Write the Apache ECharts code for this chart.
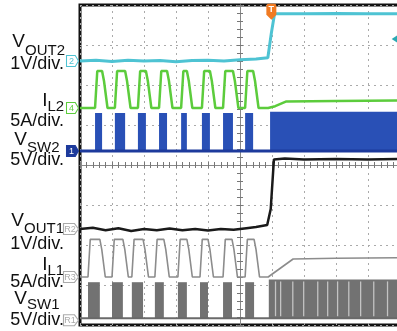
<!DOCTYPE html>
<html>
<head>
<meta charset="utf-8">
<script src="https://cdn.jsdelivr.net/npm/echarts@6/dist/echarts.min.js"></script>
<style>
html, body { margin: 0; padding: 0; background: #fff; }
#scope { width: 397px; height: 331px; }
</style>
</head>
<body>
<div id="scope"></div>
<script>
// everything in scope divisions: x = 0 is screen centre, y = 0 is centre line

// VOUT2 (cyan)
var vout2 = [[-5, 2.6], [-4.5, 2.62], [-4, 2.59], [-3.5, 2.62], [-3, 2.6], [-2.5, 2.61], [-2, 2.58],
    [-1.5, 2.61], [-1, 2.62], [-0.5, 2.6], [0, 2.63], [0.5, 2.65], [0.87, 2.68], [0.98, 3.3], [1.08, 3.78],
    [2, 3.78], [3, 3.79], [4, 3.78], [5, 3.78]];

// VOUT1 (black)
var vout1 = [[-5, -1.6], [-4.6, -1.57], [-4.2, -1.63], [-3.8, -1.58], [-3.4, -1.65], [-3, -1.6], [-2.6, -1.63],
    [-2.2, -1.59], [-1.8, -1.63], [-1.4, -1.6], [-1, -1.64], [-0.6, -1.6], [-0.2, -1.62], [0.2, -1.58],
    [0.5, -1.55], [0.85, -1.5], [0.96, -1.1], [1.06, 0.14], [1.4, 0.16], [2, 0.14], [3, 0.15], [4, 0.14], [5, 0.15]];

// switching bursts, channel 2 and channel 1
var sw2Start = [-4.53, -3.91, -3.19, -2.53, -1.84, -1.19, -0.53, 0.16];
var sw2End = [-4.31, -3.59, -2.94, -2.28, -1.66, -0.94, -0.22, 0.41];
var sw1Start = [-4.75, -4.0, -3.38, -2.66, -1.94, -1.25, -0.53, 0.16];
var sw1End = [-4.38, -3.66, -3.03, -2.38, -1.66, -1.0, -0.25, 0.44];

// IL2 (green)
var il2Low = 1.425, il2High = 2.35;
var il2After = [[0.88, 1.425], [1.1, 1.47], [1.45, 1.59], [3, 1.6], [5, 1.61]];
// VSW2 (blue)
var vsw2Base = 0.35, vsw2Top = 1.3, vsw2On = 0.94, vsw2BlockTop = 1.33;
// IL1 (grey)
var il1Low = -2.8, il1High = -1.86;
var il1After = [[0.88, -2.8], [1.66, -2.35], [3, -2.33], [5, -2.32]];
// VSW1 (dark grey)
var vsw1Base = -3.83, vsw1Top = -2.93, vsw1On = 0.9, vsw1BlockTop = -2.86;
var vsw1Gaps = [1.09, 1.25, 1.63, 1.97, 2.41, 2.72, 3.03, 3.38, 3.75, 4.16, 4.59];

var trigTime = 0.98, trigLevel = 3.15;

function pulses(starts, ends, low, high, after) {
    var pts = [[-5, low]];
    for (var i = 0; i < starts.length; i++) {
        pts.push([starts[i], low], [starts[i] + 0.07, high], [ends[i], high],
            [ends[i] + 0.06, high - 0.25], [ends[i] + 0.17, low]);
    }
    return pts.concat(after);
}

function bursts(starts, ends, base, top, on, blockTop) {
    var d = starts.map(function (s, i) { return [s, ends[i], base, top]; });
    d.push([on, 5.2, base, blockTop]);
    return d;
}

function rectItem(params, api) {
    var p0 = api.coord([api.value(0), api.value(3)]);
    var p1 = api.coord([api.value(1), api.value(2)]);
    return {
        type: 'rect',
        shape: { x: p0[0], y: p0[1], width: Math.max(p1[0] - p0[0], 1), height: p1[1] - p0[1] },
        style: { fill: api.visual('color') }
    };
}

function chanMark(v, txt, col, fill, w) {
    return {
        coord: [-5, v],
        symbolSize: [w, 11],
        symbolOffset: [-w / 2 - 1.5, 0],
        itemStyle: { color: fill, borderColor: col, borderWidth: 1 },
        label: { show: true, formatter: txt, color: fill === '#fff' ? col : '#fff', fontSize: 9, offset: [-1, 0.5] }
    };
}
var tag = 'path://M0,0L8,0L11,5L8,10L0,10Z';

var myChart = echarts.init(document.getElementById('scope'));

function mkAxis(pos, idx, split, min, max) {
    return {
        type: 'value', min: min, max: max, interval: 1, position: pos,
        axisLine: { show: true, onZero: true, onZeroAxisIndex: idx, lineStyle: { color: '#888', width: 1 } },
        axisTick: { show: true, length: 3, lineStyle: { color: '#777' } },
        minorTick: { show: true, splitNumber: 5, length: 3, lineStyle: { color: '#777' } },
        axisLabel: { show: false },
        splitLine: { show: split, lineStyle: { color: '#aaa', type: [2, 4], width: 1 } }
    };
}

var font = 'Liberation Sans';
function txt(x, y, s, size, align) {
    return {
        type: 'text', x: x, y: y, silent: true,
        style: { text: s, fill: '#111', font: size + 'px "' + font + '"', align: align || 'right', verticalAlign: 'middle' }
    };
}

var option = {
    animation: false,
    backgroundColor: '#fff',
    grid: {
        left: 80, top: 5, width: 320, height: 320, outerBoundsMode: 'none',
        show: true, borderColor: '#111', borderWidth: 3, backgroundColor: 'transparent'
    },
    xAxis: [mkAxis('bottom', 0, true, -5, 5), mkAxis('top', 1, false, -5, 5)],
    yAxis: [mkAxis('left', 0, true, -4, 4), mkAxis('right', 1, false, -4, 4)],
    graphic: [
        txt(25, 41.5, 'V', 19), txt(25, 51, 'OUT2', 15, 'left'), txt(64, 64, '1V/div.', 18),
        txt(47.5, 101, 'I', 19), txt(47.5, 107, 'L2', 15, 'left'), txt(64, 121.5, '5A/div.', 18),
        txt(27, 140, 'V', 19), txt(27, 148, 'SW2', 15, 'left'), txt(64, 160, '5V/div.', 18),
        txt(24, 220.5, 'V', 19), txt(24, 228.5, 'OUT1', 15, 'left'), txt(64, 244, '1V/div.', 18),
        txt(47.5, 265, 'I', 19), txt(47.5, 271, 'L1', 15, 'left'), txt(64, 282.5, '5A/div.', 18),
        txt(27, 298.5, 'V', 19), txt(27, 305, 'SW1', 15, 'left'), txt(64, 320, '5V/div.', 18)
    ],
    series: [
        {
            type: 'custom', name: 'VSW2', renderItem: rectItem, clip: true,
            itemStyle: { color: '#2950b6' },
            encode: { x: [0, 1], y: [2, 3] },
            data: bursts(sw2Start, sw2End, vsw2Base, vsw2Top, vsw2On, vsw2BlockTop)
        },
        {
            type: 'line', name: 'VSW2 base', showSymbol: false, clip: true,
            lineStyle: { color: '#1d3a9c', width: 3 },
            data: [[-5, vsw2Base], [5, vsw2Base]],
            markPoint: { symbol: tag, silent: true, data: [chanMark(vsw2Base, '1', '#1d3a9c', '#1d3a9c', 12)] }
        },
        {
            type: 'custom', name: 'VSW1', renderItem: rectItem, clip: true,
            itemStyle: { color: '#727272' },
            encode: { x: [0, 1], y: [2, 3] },
            data: bursts(sw1Start, sw1End, vsw1Base, vsw1Top, vsw1On, vsw1BlockTop)
        },
        {
            type: 'custom', name: 'VSW1 gaps', renderItem: rectItem, clip: true,
            itemStyle: { color: '#c4c4c4' },
            encode: { x: [0, 1], y: [2, 3] },
            data: vsw1Gaps.map(function (g) { return [g, g + 0.04, vsw1Base + 0.05, vsw1BlockTop - 0.05]; })
        },
        {
            type: 'line', name: 'VSW1 base', showSymbol: false, clip: true,
            lineStyle: { color: '#6a6a6a', width: 2 },
            data: [[-5, vsw1Base], [5, vsw1Base]],
            markPoint: { symbol: tag, silent: true, data: [chanMark(vsw1Base - 0.05, 'R1', '#aaa', '#fff', 15)] }
        },
        {
            type: 'line', name: 'IL2', showSymbol: false, clip: true,
            lineStyle: { color: '#5ccc3c', width: 2.5 },
            data: pulses(sw2Start, sw2End, il2Low, il2High, il2After),
            markPoint: { symbol: tag, silent: true, data: [chanMark(il2Low, '4', '#5ccc3c', '#fff', 12)] }
        },
        {
            type: 'line', name: 'IL1', showSymbol: false, clip: true,
            lineStyle: { color: '#8c8c8c', width: 1.6 },
            data: pulses(sw1Start, sw1End, il1Low, il1High, il1After),
            markPoint: { symbol: tag, silent: true, data: [chanMark(il1Low, 'R3', '#aaa', '#fff', 15)] }
        },
        {
            type: 'line', name: 'VOUT1', showSymbol: false, clip: true,
            lineStyle: { color: '#1a1a1a', width: 2.5 },
            data: vout1,
            markPoint: { symbol: tag, silent: true, data: [chanMark(vout1[0][1], 'R2', '#aaa', '#fff', 15)] }
        },
        {
            type: 'line', name: 'VOUT2', showSymbol: false, clip: true,
            lineStyle: { color: '#4ec3d3', width: 3 },
            data: vout2,
            markPoint: {
                silent: true,
                data: [
                    Object.assign(chanMark(vout2[0][1], '2', '#4ec3d3', '#fff', 12), { symbol: tag }),
                    {
                        coord: [trigTime, 3.83], symbol: 'path://M0,2Q0,0 2,0L8,0Q10,0 10,2L10,11L5,16L0,11Z',
                        symbolSize: [10, 16], itemStyle: { color: '#f07a22' },
                        label: { show: true, formatter: 'T', color: '#fff', fontSize: 9, fontWeight: 'bold', offset: [0, -2] }
                    },
                    {
                        coord: [4.85, trigLevel], symbol: 'path://M0,5L7,0L7,10Z',
                        symbolSize: [7, 9], itemStyle: { color: '#2aa9b3' }, label: { show: false }
                    }
                ]
            }
        }
    ]
};
myChart.setOption(option);
window.addEventListener('resize', function () {
    myChart.resize();
});
</script>
</body>
</html>
